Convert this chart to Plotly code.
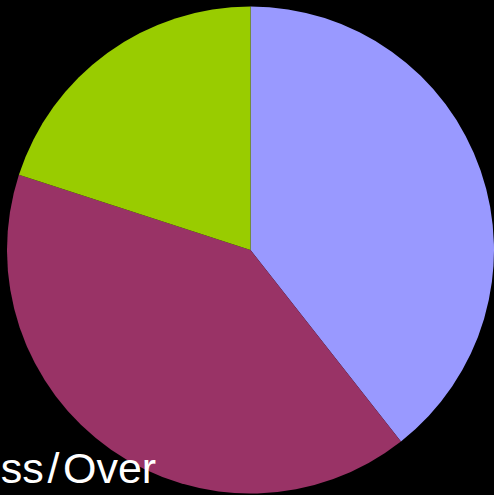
import plotly.graph_objects as go

labels = ["A", "B", "C"]
values = [39.4, 40.6, 20.0]
colors = ["#9999FF", "#993366", "#99CC00"]
caption = "Less\u200a/\u200aOver"

W, H = 494, 495
cx, cy, r = 252, 250, 245

fig = go.Figure(go.Pie(
    labels=labels, values=values, sort=False, direction="clockwise", rotation=0,
    marker=dict(colors=colors, line=dict(width=0)),
    textinfo="none", hoverinfo="label+percent",
    domain=dict(x=[(cx - r) / W, 1.0], y=[0.0, (H - (cy - r)) / H]),
))

fig.add_annotation(
    text=caption, xref="paper", yref="paper",
    x=158 / W, y=(H - 468) / H, xanchor="right", yanchor="middle",
    showarrow=False, font=dict(family="Liberation Sans, Arial", size=43, color="white"),
)

fig.update_layout(
    width=W, height=H, margin=dict(l=0, r=0, t=0, b=0),
    paper_bgcolor="black", plot_bgcolor="black", showlegend=False,
)

fig.write_html("out.html")
